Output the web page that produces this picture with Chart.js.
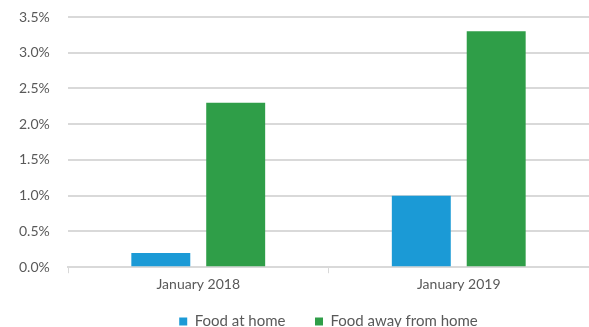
<!DOCTYPE html>
<html>
<head>
    <meta charset="UTF-8">
    <title>Food price inflation</title>
    <script src="https://cdn.jsdelivr.net/npm/chart.js"></script>
    <style>
        html, body { margin: 0; padding: 0; background: #fff; }
        .chart-container { position: relative; width: 589px; height: 327px; }
    </style>
</head>
<body>
    <div class="chart-container">
        <canvas id="foodChart"></canvas>
    </div>
    <script>
        // data
        var categories = ['January 2018', 'January 2019'];
        var foodAtHome = [0.2, 1.0];
        var foodAway = [2.3, 3.3];
        var seriesNames = ['Food at home', 'Food away from home'];

        var gridColor = '#d9d9d9';
        var textColor = '#595959';
        Chart.defaults.font.family = 'Lato, "Open Sans", sans-serif';
        Chart.defaults.font.size = 14;
        Chart.defaults.color = textColor;

        var ctx = document.getElementById('foodChart').getContext('2d');
        var foodChart = new Chart(ctx, {
            type: 'bar',
            data: {
                labels: categories,
                datasets: [{
                    label: seriesNames[0],
                    data: foodAtHome,
                    backgroundColor: '#1b9ad6'
                }, {
                    label: seriesNames[1],
                    data: foodAway,
                    backgroundColor: '#2f9e48'
                }]
            },
            options: {
                responsive: true,
                maintainAspectRatio: false,
                animation: false,
                categoryPercentage: 0.575,
                barPercentage: 0.787,
                // negative bottom pushes the legend close to the lower edge
                layout: { padding: { top: 17, right: 0, left: 19, bottom: -12 } },
                plugins: {
                    tooltip: { enabled: false },
                    legend: {
                        position: 'bottom',
                        fullSize: false, // center under the plot area
                        labels: {
                            boxWidth: 8,
                            boxHeight: 8,
                            padding: 18,
                            color: textColor,
                            font: { size: 15 },
                            generateLabels: function (chart) {
                                var items = Chart.defaults.plugins.legend.labels.generateLabels(chart);
                                // wider gap after the first entry
                                items[0].text = items[0].text + '   ';
                                return items;
                            }
                        }
                    }
                },
                scales: {
                    x: {
                        grid: {
                            offset: true,
                            drawOnChartArea: false,
                            drawTicks: true,
                            tickLength: 6,
                            color: gridColor
                        },
                        border: { color: gridColor, width: 2 },
                        ticks: { padding: 3 }
                    },
                    y: {
                        min: 0,
                        max: 3.5,
                        grid: { color: gridColor, lineWidth: 2, drawTicks: false },
                        border: { display: false },
                        ticks: {
                            stepSize: 0.5,
                            padding: 0,
                            crossAlign: 'far',
                            callback: function (v) { return v.toFixed(1) + '%'; }
                        },
                        afterFit: function (scale) { scale.width = 49; }
                    }
                }
            }
        });
    </script>
</body>
</html>
